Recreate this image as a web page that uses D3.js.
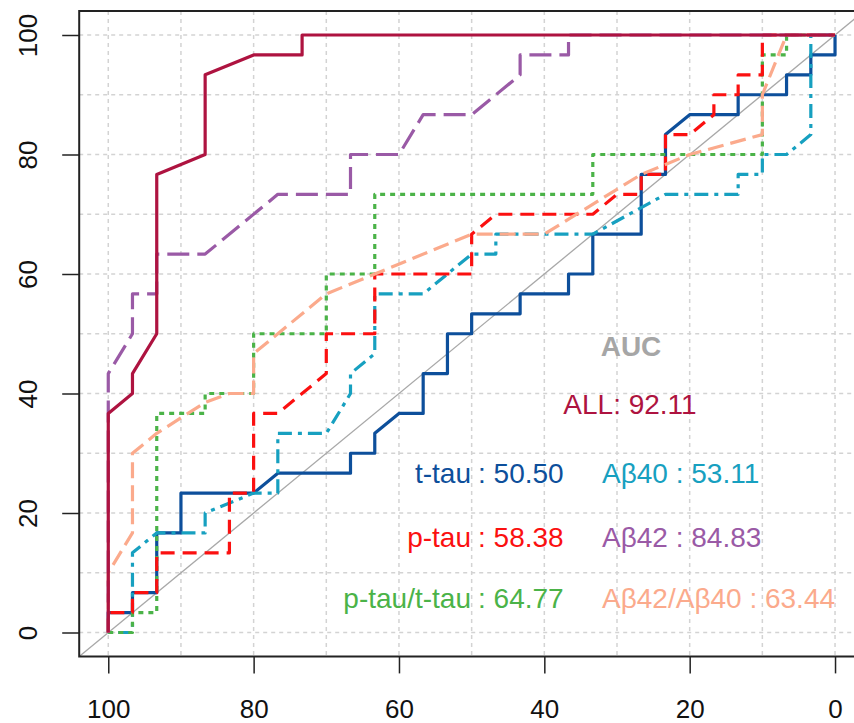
<!DOCTYPE html>
<html>
<head>
<meta charset="utf-8">
<title>ROC curves</title>
<script src="https://cdn.jsdelivr.net/npm/d3@7"></script>
<style>
  body { margin: 0; background: #fff; }
  svg text { font-family: "Liberation Sans", Arial, sans-serif; }
</style>
</head>
<body>
<div id="viz"></div>
<script>
// ROC points, [specificity, sensitivity] in %
const rocTtau = [[100,0],[100,3.33],[96.67,3.33],[96.67,6.67],[93.33,6.67],[93.33,16.67],[90,16.67],[90,23.33],
  [80,23.33],[76.67,26.67],[66.67,26.67],[66.67,30],[63.33,30],[63.33,33.33],[60,36.67],[56.67,36.67],
  [56.67,43.33],[53.33,43.33],[53.33,50],[50,50],[50,53.33],[43.33,53.33],[43.33,56.67],[36.67,56.67],
  [36.67,60],[33.33,60],[33.33,66.67],[26.67,66.67],[26.67,76.67],[23.33,76.67],[23.33,83.33],[20,86.67],
  [13.33,86.67],[13.33,90],[6.67,90],[6.67,93.33],[3.33,93.33],[3.33,96.67],[0,96.67],[0,100]];
const rocPtau = [[100,0],[100,3.33],[96.67,3.33],[96.67,6.67],[93.33,6.67],[93.33,13.33],[83.33,13.33],
  [83.33,23.33],[80,23.33],[80,36.67],[76.67,36.67],[70,43.33],[70,50],[63.33,50],[63.33,60],[50,60],
  [50,66.67],[46.67,70],[33.33,70],[30,73.33],[26.67,73.33],[26.67,76.67],[23.33,76.67],[23.33,83.33],
  [20,83.33],[16.67,86.67],[16.67,90],[13.33,90],[13.33,93.33],[10,93.33],[10,100],[0,100]];
const rocRatioTau = [[100,0],[96.67,0],[96.67,3.33],[93.33,3.33],[93.33,36.67],[86.67,36.67],[86.67,40],
  [80,40],[80,50],[70,50],[70,60],[63.33,60],[63.33,73.33],[33.33,73.33],[33.33,80],[10,80],[10,96.67],
  [6.67,96.67],[6.67,100],[0,100]];
const rocAb40 = [[100,0],[96.67,0],[96.67,13.33],[93.33,16.67],[86.67,16.67],[86.67,20],[80,23.33],
  [76.67,23.33],[76.67,33.33],[70,33.33],[66.67,40],[66.67,43.33],[63.33,46.67],[63.33,56.67],
  [56.67,56.67],[50,63.33],[46.67,63.33],[46.67,66.67],[33.33,66.67],[23.33,73.33],[13.33,73.33],
  [13.33,76.67],[10,76.67],[10,80],[6.67,80],[3.33,83.33],[3.33,100],[0,100]];
const rocAb42 = [[100,0],[100,43.33],[96.67,50],[96.67,56.67],[93.33,56.67],[93.33,63.33],[86.67,63.33],
  [76.67,73.33],[66.67,73.33],[66.67,80],[60,80],[56.67,86.67],[50,86.67],[43.33,93.33],[43.33,96.67],
  [36.67,96.67],[36.67,100],[0,100]];
const rocRatioAb = [[100,0],[100,10],[96.67,16.67],[96.67,30],[93.33,33.33],[86.67,38.5],[83.33,40],
  [80,40],[80,46.67],[70,56.67],[63.33,60],[50,66.67],[40,66.67],[26.67,76.67],[20,80],[10,83.33],
  [10,90],[6.67,100],[0,100]];
const rocAll = [[100,0],[100,36.67],[96.67,40],[96.67,43.33],[93.33,50],[93.33,76.67],[86.67,80],
  [86.67,93.33],[80,96.67],[73.33,96.67],[73.33,100],[0,100]];

const aucNames = ["t-tau", "p-tau", "p-tau/t-tau", "Aβ40", "Aβ42", "Aβ42/Aβ40"];
const aucValues = ["50.50", "58.38", "64.77", "53.11", "84.83", "63.44"];
const aucAll = "92.11";

const xTicks = [100, 80, 60, 40, 20, 0];
const yTicks = [0, 20, 40, 60, 80, 100];
const gridTicks = [0, 10, 20, 30, 40, 50, 60, 70, 80, 90, 100];

const W = 854, H = 723;
const x = d3.scaleLinear().domain([104, -4]).range([79.2, 864.1]);
const y = d3.scaleLinear().domain([-4, 104]).range([656.4, 11.1]);

const svg = d3.select("#viz").append("svg")
  .attr("width", W).attr("height", H);

// grid
svg.append("g").selectAll("line.gx").data(gridTicks).enter().append("line")
  .attr("x1", d => x(d)).attr("x2", d => x(d))
  .attr("y1", y(104)).attr("y2", y(-4))
  .style("stroke", "#d3d3d3").style("stroke-width", 1.5).style("stroke-dasharray", "4,4");
svg.append("g").selectAll("line.gy").data(gridTicks).enter().append("line")
  .attr("x1", x(104)).attr("x2", W)
  .attr("y1", d => y(d)).attr("y2", d => y(d))
  .style("stroke", "#d3d3d3").style("stroke-width", 1.5).style("stroke-dasharray", "4,4");

// chance diagonal
svg.append("line")
  .attr("x1", x(104)).attr("y1", y(-4))
  .attr("x2", x(-4)).attr("y2", y(104))
  .style("stroke", "#a8a8a8").style("stroke-width", 1.3);

const line = d3.line().x(d => x(d[0])).y(d => y(d[1]));

const cTtau = "#0d4f9b", cPtau = "#fb1010", cRatioTau = "#4bb348",
      cAb40 = "#17a0c0", cAb42 = "#9a5aa6", cRatioAb = "#fbaa8c", cAll = "#ae1340";

const curves = [
  {data: rocTtau, color: cTtau, dash: null},
  {data: rocAb40, color: cAb40, dash: "4,6,14,6"},
  {data: rocRatioTau, color: cRatioTau, dash: "5,5"},
  {data: rocPtau, color: cPtau, dash: "14,8"},
  {data: rocRatioAb, color: cRatioAb, dash: "16,7"},
  {data: rocAb42, color: cAb42, dash: "22,8"},
  {data: rocAll, color: cAll, dash: null}
];

svg.append("g").selectAll("path").data(curves).enter().append("path")
  .attr("d", d => line(d.data))
  .style("fill", "none")
  .style("stroke", d => d.color)
  .style("stroke-width", 3.2)
  .style("stroke-linejoin", "round")
  .style("stroke-dasharray", d => d.dash);

// box
svg.append("path")
  .attr("d", `M${W},${y(104)}H${x(104)}V${y(-4)}H${W}`)
  .style("fill", "none").style("stroke", "#222").style("stroke-width", 2);

// axes
const xAxis = svg.append("g")
  .attr("transform", `translate(0,${y(-4)})`)
  .call(d3.axisBottom(x).tickValues(xTicks).tickSize(17));
xAxis.select(".domain").remove();
xAxis.selectAll("line").style("stroke", "#222").style("stroke-width", 1.5);
xAxis.selectAll("text").attr("y", 62).attr("dy", 0)
  .style("font-size", "26px").style("fill", "#111")
  .style("font-family", "'Liberation Sans', Arial, sans-serif");

const yAxis = svg.append("g")
  .attr("transform", `translate(${x(104)},0)`)
  .call(d3.axisLeft(y).tickValues(yTicks).tickSize(17));
yAxis.select(".domain").remove();
yAxis.selectAll("line").style("stroke", "#222").style("stroke-width", 1.5);
yAxis.selectAll("text")
  .attr("transform", "rotate(-90)")
  .attr("x", 0).attr("y", -42).attr("dy", 0)
  .attr("text-anchor", "middle")
  .style("font-size", "26px").style("fill", "#111")
  .style("font-family", "'Liberation Sans', Arial, sans-serif");

// AUC annotation
const fs = "28px";
svg.append("text").attr("x", 631).attr("y", 356).attr("text-anchor", "middle")
  .style("font-size", fs).style("font-weight", "bold").style("fill", "#a6a6a6")
  .text("AUC");
svg.append("text").attr("x", 630).attr("y", 414).attr("text-anchor", "middle")
  .style("font-size", fs).style("fill", cAll)
  .text(`ALL: ${aucAll}`);

const rowY = [483, 547, 608, 483, 547, 608];
const labelColors = [cTtau, cPtau, cRatioTau, cAb40, cAb42, cRatioAb];

const lab = svg.append("g").selectAll("g").data(aucNames).enter().append("g");
// left column: name right-aligned, value after the colon
lab.filter((d, i) => i < 3).append("text")
  .attr("x", 471).attr("y", (d, i) => rowY[i]).attr("text-anchor", "end")
  .style("font-size", fs).style("fill", (d, i) => labelColors[i])
  .text(d => d);
lab.filter((d, i) => i < 3).append("text")
  .attr("x", 478).attr("y", (d, i) => rowY[i]).attr("text-anchor", "start")
  .style("font-size", fs).style("fill", (d, i) => labelColors[i])
  .text((d, i) => `: ${aucValues[i]}`);
// right column
lab.filter((d, i) => i >= 3).append("text")
  .attr("x", 602).attr("y", (d, i) => rowY[i + 3]).attr("text-anchor", "start")
  .style("font-size", fs).style("fill", (d, i) => labelColors[i + 3])
  .text((d, i) => `${d} : ${aucValues[i + 3]}`);
</script>
</body>
</html>
